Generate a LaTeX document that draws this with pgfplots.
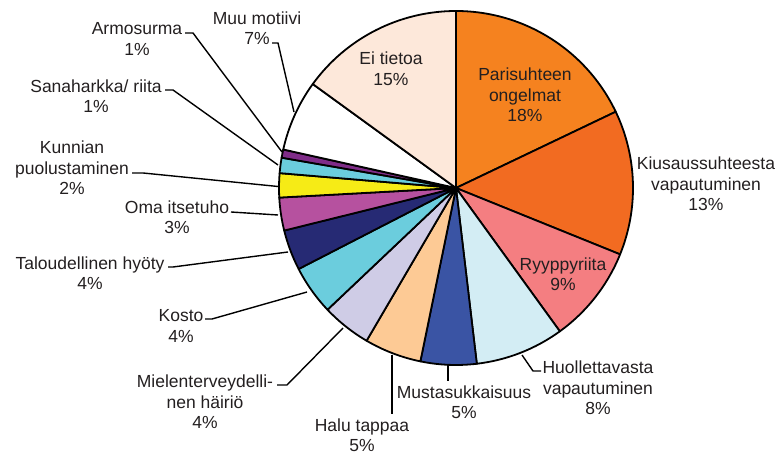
\documentclass[border=0pt]{standalone}
\usepackage{pgfplots}
\pgfplotsset{compat=1.18}
\usepackage{pgfplotstable}
\usepackage{fontspec}
\setmainfont{Liberation Sans}

% motive shares (%), clockwise from 12 o'clock
\pgfplotstableread[col sep=comma]{
name,value,color
Parisuhteen ongelmat,17.9,F5821F
Kiusaussuhteesta vapautuminen,13.2,F26B21
Ryyppyriita,8.9,F47E81
Huollettavasta vapautuminen,8.1,D3EDF4
Mustasukkaisuus,5.1,3A54A4
Halu tappaa,5.2,FDCA95
Mielenterveydellinen hairio,4.5,CFCCE6
Kosto,4.5,6BCDDD
Taloudellinen hyoty,3.7,262A74
Oma itsetuho,3.0,B6519F
Kunnian puolustaminen,2.2,F6EB16
Sanaharkka riita,1.4,6BCDDD
Armosurma,0.75,7F2C88
Muu motiivi,6.5,FFFFFF
Ei tietoa,15.0,FDE8DA
}\motives

\pgfplotstablegetrowsof{\motives}
\pgfmathtruncatemacro\lastrow{\pgfplotsretval-1}
\gdef\total{0}
\foreach \i in {0,...,\lastrow}{%
  \pgfplotstablegetelem{\i}{value}\of\motives
  \pgfmathsetmacro\tmp{\total+\pgfplotsretval}%
  \xdef\total{\tmp}%
}
\gdef\cum{0}
\foreach \i in {0,...,\lastrow}{%
  \pgfplotstablegetelem{\i}{value}\of\motives
  \pgfmathsetmacro\sa{90-360*(\cum/\total)}%
  \pgfmathsetmacro\newcum{\cum+\pgfplotsretval}%
  \pgfmathsetmacro\ea{90-360*(\newcum/\total)}%
  \expandafter\xdef\csname sa\i\endcsname{\sa}%
  \expandafter\xdef\csname ea\i\endcsname{\ea}%
  \xdef\cum{\newcum}%
  \pgfplotstablegetelem{\i}{color}\of\motives
  \xglobal\definecolor{slice\i}{HTML}{\pgfplotsretval}%
}
\definecolor{txt}{HTML}{231F20}

\begin{document}
\begin{tikzpicture}[
  lbl/.style={font=\fontsize{17.5bp}{20.5bp}\selectfont, text=txt, align=center, inner sep=0pt},
]
\begin{axis}[
  width=779bp, height=456bp, scale only axis,
  xmin=0, xmax=779, ymin=0, ymax=456,
  hide axis, clip=false,
]
\pgfplotsinvokeforeach{0,...,14}{
  \filldraw[fill=slice#1, draw=black, line width=1.8bp, line join=round]
    (axis cs:456,268) -- ++(\csname sa#1\endcsname:177bp)
    arc[start angle=\csname sa#1\endcsname, end angle=\csname ea#1\endcsname, radius=177bp] -- cycle;
}

% labels inside
\node[lbl] at (axis cs:525,361) {Parisuhteen\\ongelmat\\18\%};
\node[lbl] at (axis cs:391,387) {Ei tietoa\\15\%};
\node[lbl] at (axis cs:563,182) {Ryyppyriita\\9\%};
% labels outside
\node[lbl] at (axis cs:706,272) {Kiusaussuhteesta\\vapautuminen\\13\%};
\node[lbl] at (axis cs:598,68) {Huollettavasta\\vapautuminen\\8\%};
\node[lbl] at (axis cs:464,54) {Mustasukkaisuus\\5\%};
\node[lbl] at (axis cs:362,21) {Halu tappaa\\5\%};
\node[lbl] at (axis cs:205,54) {Mielenterveydelli-\\nen häiriö\\4\%};
\node[lbl] at (axis cs:181,130) {Kosto\\4\%};
\node[lbl] at (axis cs:90,183) {Taloudellinen hyöty\\4\%};
\node[lbl] at (axis cs:177,239) {Oma itsetuho\\3\%};
\node[lbl] at (axis cs:72,288) {Kunnian\\puolustaminen\\2\%};
\node[lbl] at (axis cs:96,360) {Sanaharkka/ riita\\1\%};
\node[lbl] at (axis cs:137,417) {Armosurma\\1\%};
\node[lbl] at (axis cs:257,428) {Muu motiivi\\7\%};

% leader lines
\begin{scope}[line width=1.4bp, line join=miter]
\draw (axis cs:522,101) -- (axis cs:533,85) -- (axis cs:541,85);
\draw (axis cs:448,91) -- (axis cs:448,75);
\draw (axis cs:392,101) -- (axis cs:392,42);
\draw (axis cs:343,128) -- (axis cs:287,71) -- (axis cs:277,71);
\draw (axis cs:307,164) -- (axis cs:212,137) -- (axis cs:205,137);
\draw (axis cs:288,204) -- (axis cs:173,189) -- (axis cs:168,189);
\draw (axis cs:278,241) -- (axis cs:231,244);
\draw (axis cs:132,283) -- (axis cs:143,283) -- (axis cs:278,269.5);
\draw (axis cs:165,366) -- (axis cs:173,366) -- (axis cs:278,291);
\draw (axis cs:185,423) -- (axis cs:193,423) -- (axis cs:282,304);
\draw (axis cs:272,413) -- (axis cs:278,413) -- (axis cs:294,344);
\end{scope}
\end{axis}
\pgfresetboundingbox
\useasboundingbox (0,0) rectangle (779bp,456bp);
\end{tikzpicture}
\end{document}
